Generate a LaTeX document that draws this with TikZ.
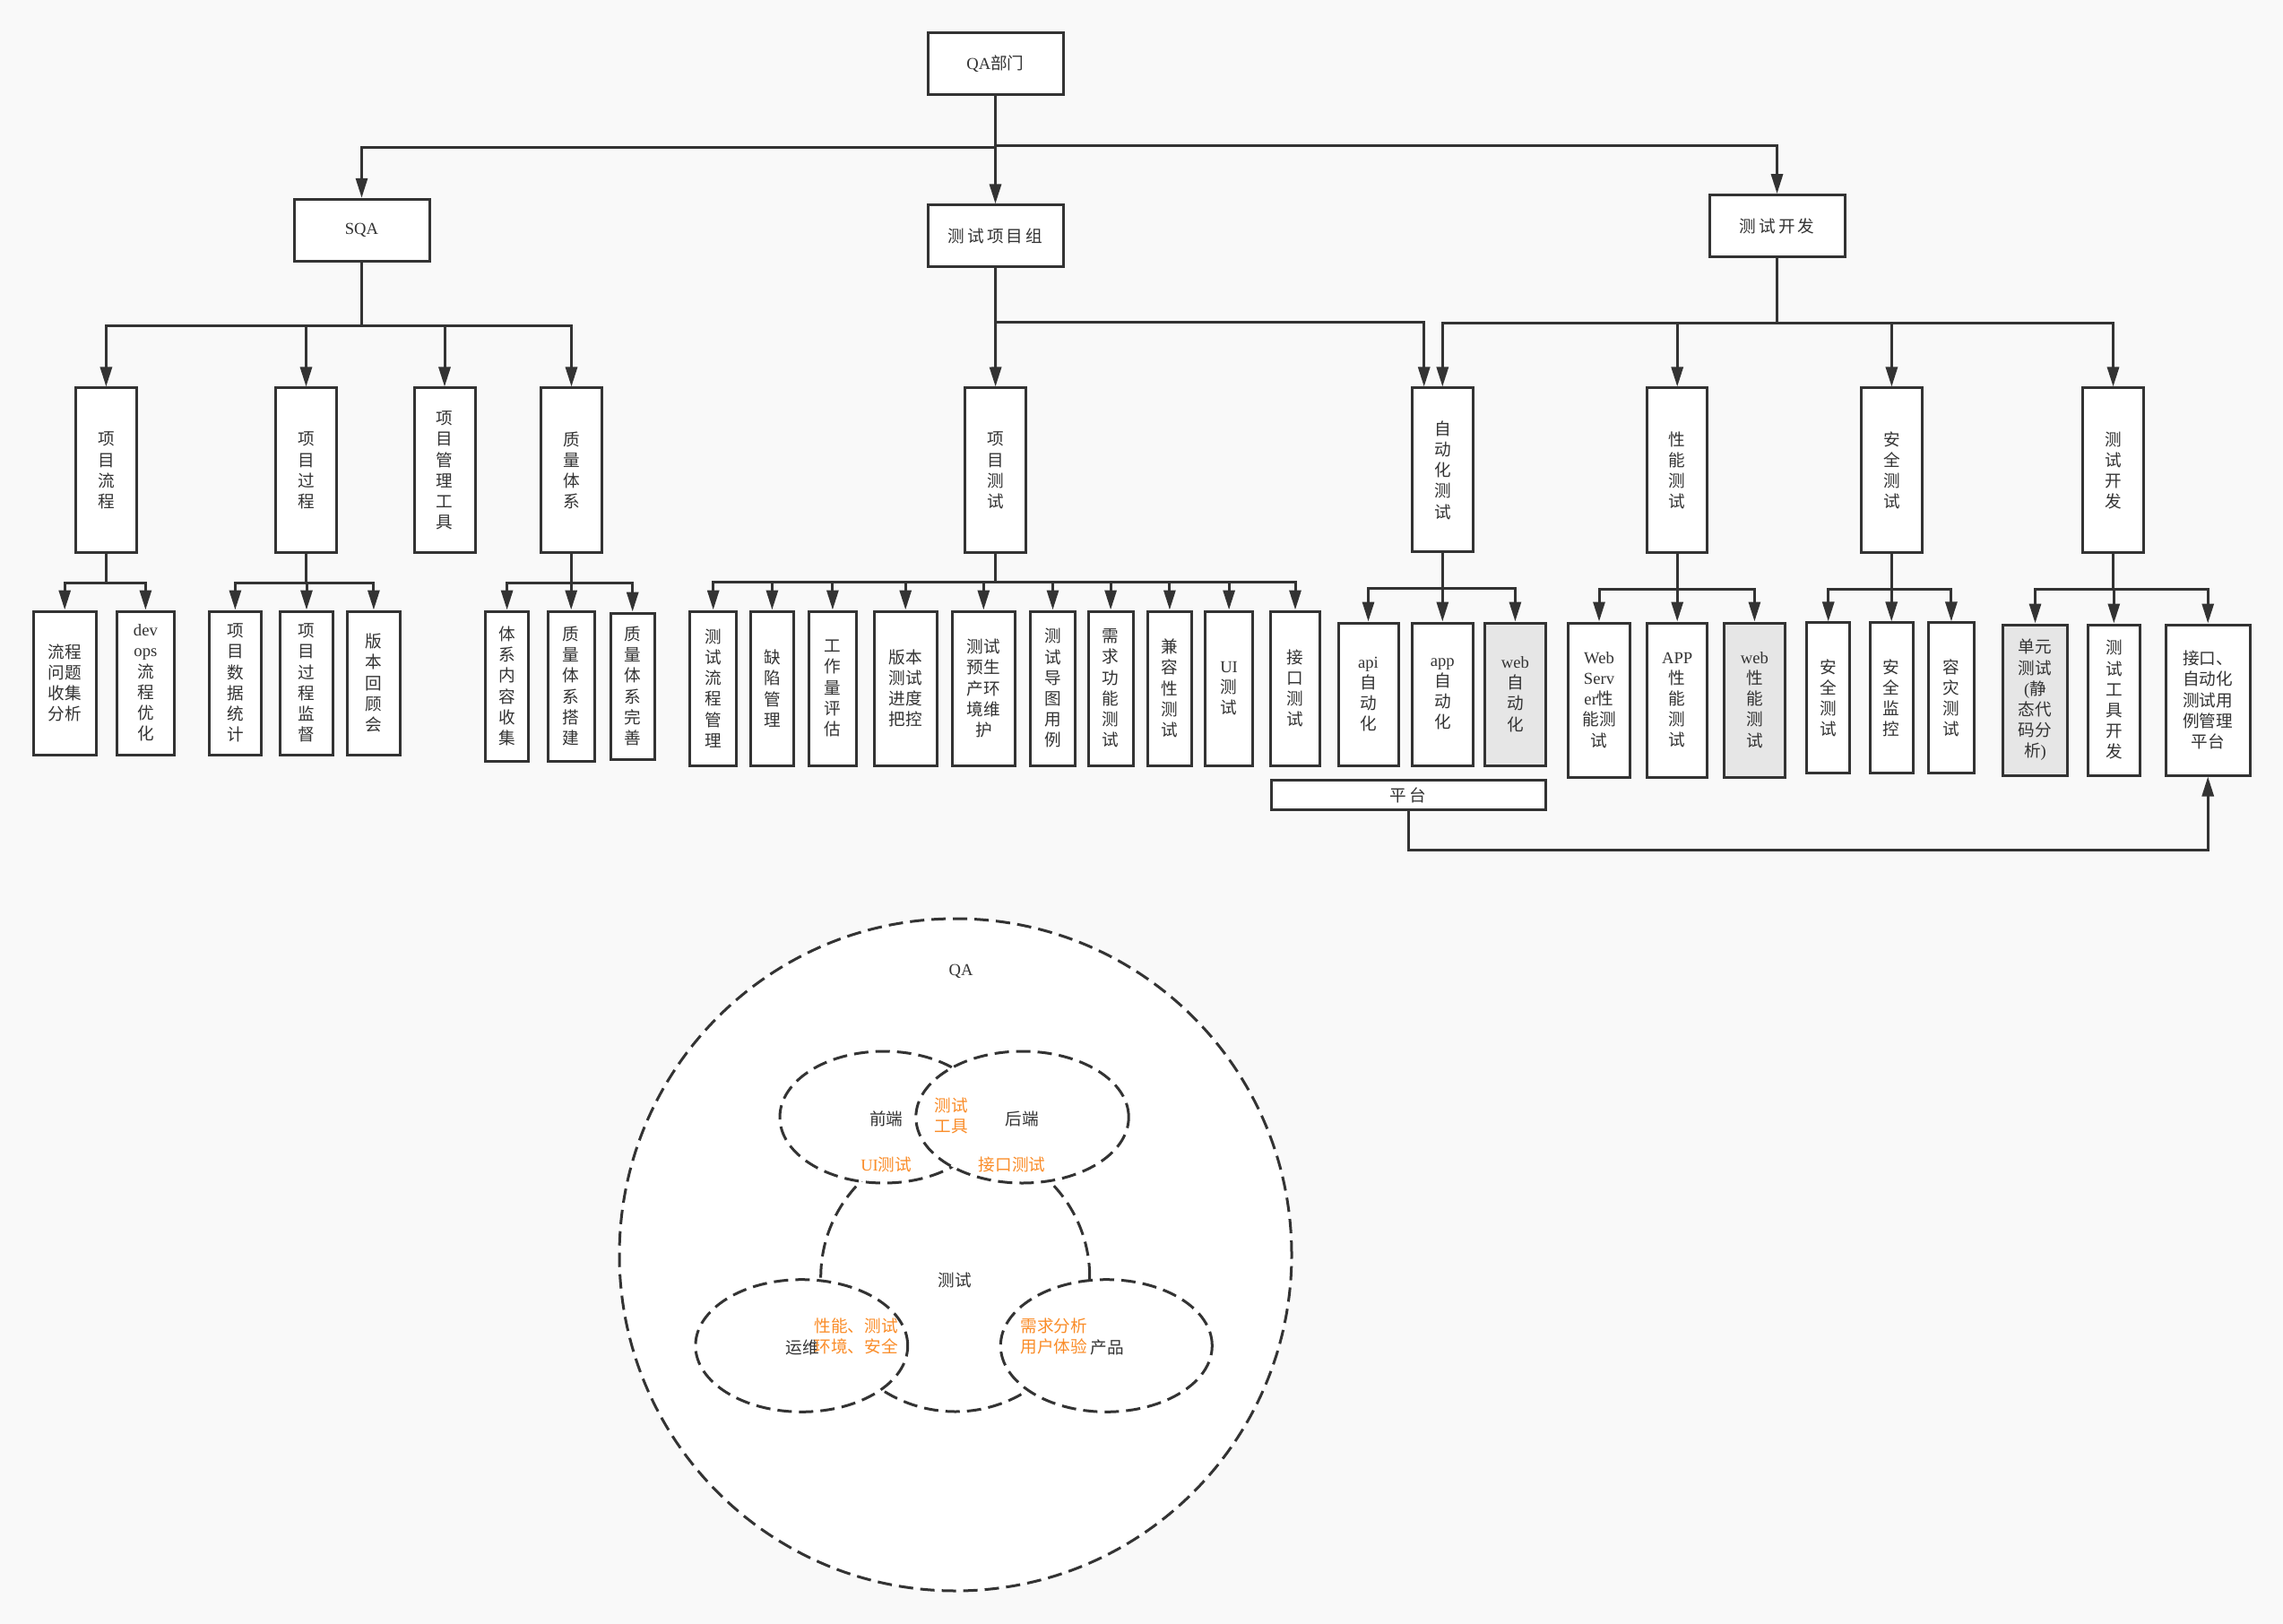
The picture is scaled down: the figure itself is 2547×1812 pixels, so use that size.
\documentclass[tikz,border=0pt]{standalone}
\usepackage{fontspec}
\setmainfont{Liberation Serif}
\newfontfamily\cjkfont{Noto Sans CJK SC}
\usepackage{tikz}
\usetikzlibrary{arrows.meta,shapes.geometric,positioning,calc}
\definecolor{lineGray}{RGB}{51,51,51}
\definecolor{boxGray}{RGB}{230,230,230}
\definecolor{bgGray}{RGB}{249,249,249}
\definecolor{noteOrange}{RGB}{250,140,40}
\newcommand{\latn}[1]{{\rmfamily #1}}

\tikzset{
  txt/.style={font=\fontsize{5.3}{6.6}\selectfont\cjkfont,text=lineGray},
  box/.style={txt,draw=lineGray,fill=white,line width=0.3mm,inner sep=0pt,align=center},
  greybox/.style={box,fill=boxGray},
  wh/.style 2 args={minimum width=#1*0.1mm,minimum height=#2*0.1mm},
  arr/.style={draw=lineGray,line width=0.3mm,-{Triangle[length=2.2mm,width=1.3mm]}},
  venn/.style={ellipse,draw=lineGray,fill=white,line width=0.3mm,inner sep=0pt,
               dash pattern=on 1.6mm off 0.8mm},
  lbl/.style={txt,inner sep=0pt},
  hl/.style={lbl,text=noteOrange},
}

\begin{document}
\begin{tikzpicture}[x=0.1mm,y=-0.1mm]
\fill[bgGray] (0,0) rectangle (2547,1812);
\useasboundingbox (0,0) rectangle (2547,1812);

% top levels
\node[box,wh={151}{69}] (qa) at (1110.5,71.5) {\latn{QA}部门};
\node[box,wh={151}{69}] (sqa) at (403.5,256.8) {\latn{SQA}};
\node[box,wh={151}{69}] (xmz) at (1110.5,263.4) {测\,试\,项\,目\,组};
\node[box,wh={151}{69}] (kf) at (1982.5,252.2) {测\,试\,开\,发};

\node[box,wh={67.4}{184}] (lc) at (118.4,525) {项\\目\\流\\程};
\node[box,wh={68}{184}] (gc) at (341.5,525) {项\\目\\过\\程};
\node[box,wh={68}{184}] (gj) at (496,525) {项\\目\\管\\理\\工\\具};
\node[box,wh={68}{184}] (tx) at (637.5,525) {质\\量\\体\\系};
\node[box,wh={68}{184}] (xmcs) at (1110.6,525) {项\\目\\测\\试};
\node[box,wh={67.4}{183}] (zdh) at (1609.3,524.5) {自\\动\\化\\测\\试};
\node[box,wh={67.3}{184}] (xn) at (1871.2,525) {性\\能\\测\\试};
\node[box,wh={67.3}{184}] (aq) at (2110.4,525) {安\\全\\测\\试};
\node[box,wh={67.3}{184}] (csk) at (2357.5,525) {测\\试\\开\\发};

% SQA leaves
\node[box,wh={70}{160}] (a1) at (72.2,762) {流程\\问题\\收集\\分析};
\node[box,wh={63.6}{160}] (a2) at (162.4,762) {\latn{dev}\\\latn{ops}\\流\\程\\优\\化};
\node[box,wh={58.8}{160}] (b1) at (262.4,762) {项\\目\\数\\据\\统\\计};
\node[box,wh={59.3}{160}] (b2) at (342,762) {项\\目\\过\\程\\监\\督};
\node[box,wh={59}{160}] (b3) at (416.9,762) {版\\本\\回\\顾\\会};
\node[box,wh={48.4}{167}] (c1) at (565.6,765.5) {体\\系\\内\\容\\收\\集};
\node[box,wh={51.7}{167}] (c2) at (637.2,765.5) {质\\量\\体\\系\\搭\\建};
\node[box,wh={49.4}{163}] (c3) at (705.7,765.5) {质\\量\\体\\系\\完\\善};

% project test leaves
\node[box,wh={52}{172}] (d1) at (795.7,768) {测\\试\\流\\程\\管\\理};
\node[box,wh={48.8}{172}] (d2) at (861.4,768) {缺\\陷\\管\\理};
\node[box,wh={53.7}{172}] (d3) at (928.9,768) {工\\作\\量\\评\\估};
\node[box,wh={69.7}{172}] (d4) at (1010.2,768) {版本\\测试\\进度\\把控};
\node[box,wh={69.9}{172}] (d5) at (1097.3,768) {测试\\预生\\产环\\境维\\护};
\node[box,wh={50.2}{172}] (d6) at (1174.5,768) {测\\试\\导\\图\\用\\例};
\node[box,wh={50.2}{172}] (d7) at (1239.1,768) {需\\求\\功\\能\\测\\试};
\node[box,wh={49.7}{172}] (d8) at (1304.9,768) {兼\\容\\性\\测\\试};
\node[box,wh={53.1}{172}] (d9) at (1371.1,768) {\latn{UI}\\测\\试};
\node[box,wh={54.5}{172}] (d10) at (1445,768) {接\\口\\测\\试};
\node[box,wh={306}{33.6}] (pt) at (1571,887) {平\,台};

% automation / performance / security / dev leaves
\node[box,wh={67}{159}] (e1) at (1526.5,774.5) {\latn{api}\\自\\动\\化};
\node[box,wh={67.4}{159}] (e2) at (1609.3,774.5) {\latn{app}\\自\\动\\化};
\node[greybox,wh={67.2}{159}] (e3) at (1690.4,774.5) {\latn{web}\\自\\动\\化};
\node[box,wh={68.7}{172}] (f1) at (1784,781) {\latn{Web}\\\latn{Serv}\\\latn{er}性\\能测\\试};
\node[box,wh={67.3}{172}] (f2) at (1871.2,781) {\latn{APP}\\性\\能\\测\\试};
\node[greybox,wh={67.2}{172}] (f3) at (1957.4,781) {\latn{web}\\性\\能\\测\\试};
\node[box,wh={47.6}{167.5}] (g1) at (2039.7,778.7) {安\\全\\测\\试};
\node[box,wh={48.4}{167.5}] (g2) at (2110.2,778.7) {安\\全\\监\\控};
\node[box,wh={51.2}{167.5}] (g3) at (2176.9,778.7) {容\\灾\\测\\试};
\node[greybox,wh={71.7}{168}] (h1) at (2270.5,781) {单元\\测试\\\latn{(}静\\态代\\码分\\析\latn{)}};
\node[box,wh={58.6}{168}] (h2) at (2358.3,781) {测\\试\\工\\具\\开\\发};
\node[box,wh={94.4}{168}] (h3) at (2463.2,781) {接口、\\自动化\\测试用\\例管理\\平台};

% connectors
\draw[arr] (qa.south) -- ++(0,57) -| (sqa.north);
\draw[arr] (qa.south) -- (xmz.north);
\draw[arr] (qa.south) -- ++(0,55) -| (kf.north);
\foreach \c in {lc,gc,gj,tx} \draw[arr] (sqa.south) -- ++(0,70.5) -| (\c.north);
\draw[arr] (xmz.south) -- (xmcs.north);
\draw[arr] (xmz.south) -- ++(0,60) -| ([xshift=-2.06mm]zdh.north);
\foreach \c in {zdh,xn,aq,csk} \draw[arr] (kf.south) -- ++(0,72) -| (\c.north);
\foreach \c in {a1,a2} \draw[arr] (lc.south) -- ++(0,32) -| (\c.north);
\foreach \c in {b1,b2,b3} \draw[arr] (gc.south) -- ++(0,32) -| (\c.north);
\foreach \c in {c1,c2,c3} \draw[arr] (tx.south) -- ++(0,32) -| (\c.north);
\foreach \c in {d1,d2,d3,d4,d5,d6,d7,d8,d9,d10} \draw[arr] (xmcs.south) -- ++(0,31) -| (\c.north);
\foreach \c in {e1,e2,e3} \draw[arr] (zdh.south) -- ++(0,39) -| (\c.north);
\foreach \c in {f1,f2,f3} \draw[arr] (xn.south) -- ++(0,39) -| (\c.north);
\foreach \c in {g1,g2,g3} \draw[arr] (aq.south) -- ++(0,39) -| (\c.north);
\foreach \c in {h1,h2,h3} \draw[arr] (csk.south) -- ++(0,39) -| (\c.north);
\draw[arr] (pt.south) -- ++(0,43.4) -| (h3.south);

% QA circle
\node[venn,wh={750}{750}] (qac) at (1066,1400) {};
\node[venn,wh={300}{300}] (csc) at (1065.7,1425) {};
\node[venn,wh={232}{147}] (qd) at (986,1246.5) {};
\node[venn,wh={237.4}{147}] (hd) at (1140.5,1246.5) {};
\node[venn,wh={236.8}{147.6}] (yw) at (894.3,1501.5) {};
\node[venn,wh={236}{147.6}] (cp) at (1234.3,1501.5) {};

\node[lbl] (tqa) at (1072,1084) {\latn{QA}};
\node[lbl] (tqd) at (988.7,1248) {前端};
\node[lbl] (thd) at (1140,1248) {后端};
\node[hl,align=center] (tgj) at (1061.6,1245) {测试\\工具};
\node[hl] (tui) at (988.7,1299.7) {\latn{UI}测试};
\node[hl] (tjk) at (1129,1299.7) {接口测试};
\node[lbl] (tcs) at (1065,1428) {测试};
\node[lbl] (tyw) at (895,1503) {运维};
\node[hl,anchor=east,align=right] (tyw2) at (1002.4,1491) {性能、测试\\环境、安全};
\node[hl,anchor=west,align=left] (tcp2) at (1137.7,1491) {需求分析\\用户体验};
\node[lbl,anchor=west] (tcp) at (1215.7,1503) {产品};
\end{tikzpicture}
\end{document}
